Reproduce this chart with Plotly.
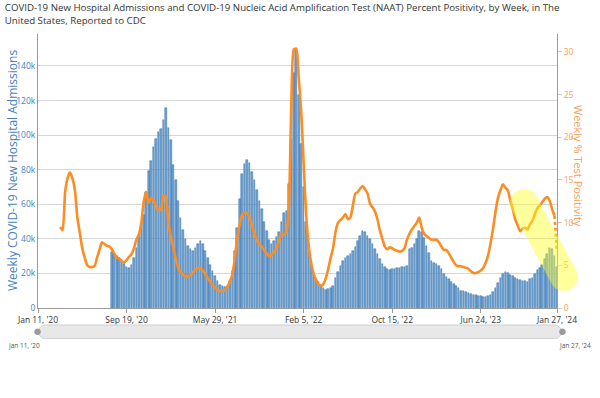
import math
import pandas as pd
import plotly.graph_objects as go

# ---------------- data ----------------
adm_start = "2020-08-08"   # first weekly admissions bar
admissions_k = [
    32.6, 31.5, 30.0, 29.0, 27.5, 25.5, 23.5, 23.3, 25.0, 29.0,
    35.0, 42.0, 49.0, 54.0, 67.0, 79.0, 85.0, 93.0, 98.0, 102.0,
    103.5, 108.8, 115.5, 104.0, 97.0, 83.0, 74.0, 62.0, 52.0, 45.0,
    40.0, 36.0, 34.0, 33.0, 34.5, 37.0, 39.0, 37.0, 33.0, 29.0,
    25.0, 21.5, 18.5, 15.5, 13.5, 12.5, 12.0, 12.5, 15.5, 21.5,
    33.0, 46.5, 63.0, 77.5, 83.5, 85.8, 84.0, 78.5, 74.0, 68.0,
    62.0, 57.0, 49.5, 44.5, 39.5, 37.0, 38.8, 40.8, 43.7, 49.5,
    54.8, 56.0, 72.0, 98.0, 136.0, 149.0, 123.0, 95.0, 70.0, 50.0,
    37.0, 27.0, 20.5, 16.5, 15.0, 13.5, 11.5, 10.5, 10.8, 11.7,
    12.6, 17.1, 21.0, 24.3, 27.2, 28.7, 30.1, 31.1, 33.0, 35.3,
    38.8, 41.7, 44.7, 43.7, 41.7, 39.8, 36.9, 34.0, 31.1, 28.2,
    25.6, 23.7, 22.3, 21.7, 22.3, 22.7, 23.1, 23.3, 23.5, 23.9,
    24.5, 34.0, 35.0, 36.9, 39.8, 44.3, 43.7, 40.4, 35.9, 31.7,
    27.2, 26.2, 25.6, 24.3, 22.3, 19.8, 18.1, 16.5, 15.1, 14.0,
    12.6, 11.7, 10.1, 9.7, 9.3, 8.7, 8.3, 7.8, 7.4, 7.2,
    6.8, 6.4, 6.4, 7.0, 7.8, 9.3, 11.7, 14.6, 17.1, 19.4,
    20.6, 20.0, 19.2, 18.3, 17.3, 16.5, 16.1, 15.9, 15.7, 15.1,
    16.5, 17.5, 19.4, 22.1, 23.3, 24.9, 28.2, 31.1, 35.0, 34.4,
    30.1, 24.0,
]

pos_start = "2020-03-14"   # first weekly test positivity value
positivity = [
    9.5, 9.1, 13.5, 15.2, 15.9, 15.2, 13.8, 10.6, 8.8, 7.0,
    5.9, 5.0, 4.8, 4.8, 4.9, 5.9, 6.8, 7.7, 7.5, 7.3,
    7.2, 6.9, 6.4, 5.9, 5.8, 5.5, 5.3, 5.6, 6.0, 6.3,
    7.0, 8.0, 8.6, 10.0, 12.5, 13.6, 12.3, 12.9, 12.6, 11.9,
    11.4, 11.5, 13.2, 13.0, 10.0, 8.4, 7.0, 5.8, 4.7, 4.2,
    3.9, 3.7, 3.7, 3.9, 4.2, 4.5, 4.7, 4.7, 4.4, 4.0,
    3.5, 3.1, 2.7, 2.4, 2.1, 2.0, 2.0, 2.1, 2.5, 3.1,
    3.9, 5.8, 8.2, 9.8, 10.9, 11.2, 11.1, 10.6, 9.7, 8.7,
    7.9, 7.5, 7.2, 6.7, 6.4, 6.1, 6.2, 6.6, 6.9, 7.9,
    8.7, 8.6, 9.0, 12.0, 24.0, 30.3, 30.4, 27.0, 23.0, 17.0,
    11.0, 7.5, 5.3, 4.1, 3.3, 2.8, 2.6, 2.8, 3.5, 4.6,
    5.9, 7.1, 9.0, 10.0, 10.3, 10.6, 11.0, 10.4, 10.6, 12.0,
    13.4, 13.6, 14.0, 14.3, 13.9, 13.4, 12.2, 11.8, 11.3, 10.4,
    9.1, 8.1, 7.2, 6.9, 7.1, 7.0, 6.8, 6.7, 6.6, 6.7,
    7.0, 8.0, 8.7, 9.2, 9.6, 10.0, 10.6, 9.4, 8.7, 8.4,
    8.2, 8.0, 8.0, 8.0, 7.7, 7.2, 6.8, 6.8, 6.4, 5.9,
    5.4, 5.0, 4.9, 4.9, 4.8, 4.7, 4.6, 4.3, 4.1, 4.1,
    4.2, 4.4, 4.7, 5.3, 6.2, 7.6, 9.3, 11.3, 12.9, 13.8,
    14.5, 14.1, 13.8, 12.6, 11.6, 10.4, 9.7, 9.0, 9.3, 9.4,
    9.2, 9.8, 10.2, 11.0, 11.7, 12.0, 12.4, 12.8, 13.0, 12.6,
    11.6, 10.8,
]

prelim_dates = ["2024-01-20", "2024-01-27"]
prelim_pos = [10.8, 6.6]

xtick_dates = ["2020-01-11", "2020-09-19", "2021-05-29", "2022-02-05",
               "2022-10-15", "2023-06-24", "2024-01-27"]
xtick_labels = ["Jan 11, '20", "Sep 19, '20", "May 29, '21", "Feb 5, '22",
                "Oct 15, '22", "Jun 24, '23", "Jan 27, '24"]
x_range = ["2020-01-11", "2024-01-27"]

title_text = ("COVID-19 New Hospital Admissions and COVID-19 Nucleic Acid Amplification Test (NAAT) "
              "Percent Positivity, by Week, in The<br>United States, Reported to CDC")

# ---------------- figure ----------------
adm_dates = pd.date_range(adm_start, periods=len(admissions_k), freq="7D")
pos_dates = pd.date_range(pos_start, periods=len(positivity), freq="7D")
admissions = [v * 1000 for v in admissions_k]

BLUE_FILL = "#6f9fd0"
BLUE_EDGE = "#3570ad"
ORANGE = "#fd8c22"
FONT = "Open Sans"

fig = go.Figure()
fig.add_trace(go.Bar(
    x=adm_dates, y=admissions, width=4.6 * 86400000,
    marker=dict(color=BLUE_FILL, line=dict(color=BLUE_EDGE, width=0.5)),
    yaxis="y", showlegend=False,
))
fig.add_trace(go.Scatter(
    x=pos_dates, y=positivity, yaxis="y2", mode="lines",
    line=dict(color=ORANGE, width=2.6, shape="spline", smoothing=0.6),
    showlegend=False,
))
fig.add_trace(go.Scatter(
    x=prelim_dates, y=prelim_pos, yaxis="y2", mode="lines",
    line=dict(color=ORANGE, width=2.6, dash="dot"),
    showlegend=False,
))

# plot area in pixels
L, R, T, B = 38, 557, 34, 308
W, H = 600, 398

def px(x):
    return (x - L) / (R - L)

def py(y):
    return (B - y) / (B - T)

def capsule_path(p1, p2, r, n=18):
    ang = math.atan2(p2[1] - p1[1], p2[0] - p1[0])
    pts = []
    for i in range(n + 1):
        a = ang - math.pi / 2 + math.pi * i / n
        pts.append((p2[0] + r * math.cos(a), p2[1] + r * math.sin(a)))
    for i in range(n + 1):
        a = ang + math.pi / 2 + math.pi * i / n
        pts.append((p1[0] + r * math.cos(a), p1[1] + r * math.sin(a)))
    s = "M " + " L ".join(f"{px(x):.5f},{py(y):.5f}" for x, y in pts) + " Z"
    return s

shapes = [
    # yellow highlight
    dict(type="path", xref="paper", yref="paper",
         path=capsule_path((524, 203), (564, 277), 14),
         fillcolor="rgba(255,255,40,0.45)", line=dict(width=0), layer="above"),
    # navigator scrollbar
    dict(type="path", xref="paper", yref="paper",
         path=capsule_path((45.5, 331.8), (554.5, 331.8), 6.8),
         fillcolor="#e8e8e8", line=dict(color="#cfcfcf", width=1), layer="above"),
    dict(type="path", xref="paper", yref="paper",
         path=capsule_path((37.5, 331.8), (37.6, 331.8), 3.2),
         fillcolor="#9a9a9a", line=dict(width=0), layer="above"),
    dict(type="path", xref="paper", yref="paper",
         path=capsule_path((562.4, 331.8), (562.5, 331.8), 3.2),
         fillcolor="#9a9a9a", line=dict(width=0), layer="above"),
]

annotations = [
    dict(text="Weekly COVID-19 New Hospital Admissions", xref="paper", yref="paper",
         x=px(12), y=0.5, textangle=-90, showarrow=False,
         font=dict(family=FONT, size=12, color="#4a7fbb"), xanchor="center", yanchor="middle"),
    dict(text="Weekly % Test Positivity", xref="paper", yref="paper",
         x=px(579), y=py(166), textangle=90, showarrow=False,
         font=dict(family=FONT, size=11, color="#f9a055"), xanchor="center", yanchor="middle"),
    dict(text=xtick_labels[0], xref="paper", yref="paper", x=px(24), y=py(345),
         showarrow=False, font=dict(family=FONT, size=6.5, color="#555"),
         xanchor="center", yanchor="middle"),
    dict(text=xtick_labels[-1], xref="paper", yref="paper", x=px(575), y=py(345),
         showarrow=False, font=dict(family=FONT, size=6.5, color="#555"),
         xanchor="center", yanchor="middle"),
]

fig.update_layout(
    width=W, height=H, autosize=False,
    margin=dict(l=L, r=W - R, t=T, b=H - B, pad=0),
    paper_bgcolor="white", plot_bgcolor="white",
    font=dict(family=FONT, color="#333"),
    title=dict(text=title_text, x=0.008, xanchor="left", xref="container",
               y=0.972, yanchor="top", yref="container",
               font=dict(family=FONT, size=9.7, color="#333")),
    xaxis=dict(type="date", range=x_range, tickvals=xtick_dates, ticktext=xtick_labels,
               showgrid=False, showline=True, linecolor="#9a9a9a", linewidth=1,
               ticks="outside", ticklen=4, tickcolor="#9a9a9a",
               tickfont=dict(family=FONT, size=8.5, color="#333"), zeroline=False),
    yaxis=dict(range=[0, 158500], dtick=20000, tickformat="~s",
               showgrid=True, gridcolor="#d6d6d6", gridwidth=1,
               showline=True, linecolor="#9a9a9a", linewidth=1, zeroline=False,
               tickfont=dict(family=FONT, size=8.5, color="#4a7fbb"), ticks=""),
    yaxis2=dict(range=[0, 32.1], dtick=5, overlaying="y", side="right",
                showgrid=False, showline=True, linecolor="#9a9a9a", linewidth=1,
                zeroline=False, ticks="outside", ticklen=4, tickcolor="#cccccc",
                tickfont=dict(family=FONT, size=8.5, color="#f9a055")),
    shapes=shapes,
    annotations=annotations,
    bargap=0,
)

fig.write_html("out.html", config={"displayModeBar": False},
               post_script="document.body.style.margin='0';document.body.style.overflow='hidden';")
